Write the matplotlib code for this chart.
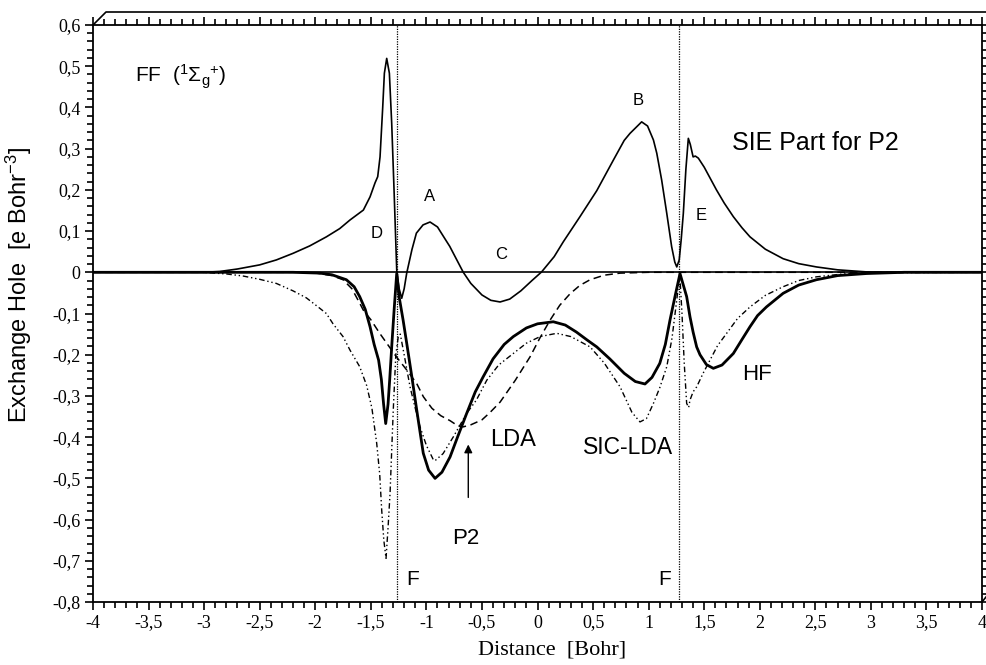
import matplotlib
matplotlib.use('Agg')
import matplotlib.pyplot as plt
from matplotlib.lines import Line2D
from matplotlib.ticker import MultipleLocator, FuncFormatter

plt.rcParams['mathtext.fontset'] = 'custom'
plt.rcParams['mathtext.rm'] = 'Liberation Sans'
plt.rcParams['mathtext.it'] = 'Liberation Sans:italic'

SANS = 'Liberation Sans'
SERIF = 'Liberation Serif'

# SIE part for reference point P2 (thin solid)
sie_x = [-4.0, -3.0, -2.86, -2.7, -2.5, -2.35, -2.2, -2.05, -1.9, -1.78, -1.687, -1.567,
         -1.507, -1.462, -1.438, -1.417, -1.393, -1.378, -1.357, -1.333, -1.312, -1.291,
         -1.267, -1.245, -1.222, -1.2, -1.177, -1.13, -1.09, -1.03, -0.967, -0.9, -0.83,
         -0.79, -0.73, -0.668, -0.6, -0.5, -0.42, -0.337, -0.25, -0.15, -0.05, 0.037,
         0.15, 0.232, 0.382, 0.533, 0.682, 0.78, 0.832, 0.937, 0.99, 1.043, 1.073, 1.117,
         1.163, 1.207, 1.235, 1.253, 1.275, 1.293, 1.312, 1.335, 1.357, 1.375, 1.40, 1.42,
         1.447, 1.5, 1.55, 1.61, 1.68, 1.762, 1.84, 1.912, 2.05, 2.21, 2.35, 2.51, 2.7,
         2.96, 3.2, 4.0]
sie_y = [0.0, 0.0, 0.002, 0.008, 0.018, 0.03, 0.046, 0.064, 0.086, 0.106, 0.127, 0.151,
         0.183, 0.217, 0.232, 0.28, 0.40, 0.483, 0.519, 0.483, 0.361, 0.2,
         0.006, -0.04, -0.063, -0.04, -0.002, 0.055, 0.095, 0.115, 0.122, 0.11, 0.08,
         0.063, 0.032, 0.0, -0.027, -0.055, -0.068, -0.072, -0.065, -0.045, -0.02, 0.001,
         0.038, 0.074, 0.135, 0.198, 0.272, 0.32, 0.337, 0.365, 0.355, 0.321, 0.289, 0.224,
         0.143, 0.062, 0.025, 0.013, 0.03, 0.08, 0.143, 0.25, 0.325, 0.31, 0.28, 0.282,
         0.277, 0.255, 0.23, 0.20, 0.168, 0.135, 0.108, 0.086, 0.056, 0.033, 0.021, 0.013, 0.006,
         0.001, 0.0, 0.0]

# HF exchange hole (thick solid)
hf_x = [-4.0, -2.2, -1.96, -1.85, -1.72, -1.65, -1.60, -1.55, -1.507, -1.47, -1.43, -1.405,
        -1.385, -1.366, -1.345, -1.33, -1.31, -1.29, -1.267, -1.245, -1.21, -1.177, -1.13,
        -1.087, -1.05, -1.028, -0.98, -0.922, -0.86, -0.787, -0.72, -0.637, -0.56, -0.488,
        -0.4, -0.3, -0.218, -0.1, 0.0, 0.142, 0.25, 0.35, 0.45, 0.533, 0.65, 0.78, 0.88,
        0.967, 1.03, 1.10, 1.15, 1.192, 1.24, 1.282, 1.342, 1.372, 1.40, 1.432, 1.462, 1.52,
        1.582, 1.66, 1.762, 1.84, 1.912, 1.98, 2.06, 2.21, 2.35, 2.51, 2.7, 2.96, 3.3, 4.0]
hf_y = [0.0, 0.0, -0.002, -0.006, -0.018, -0.035, -0.059, -0.09, -0.132, -0.175, -0.213, -0.26,
        -0.32, -0.367, -0.32, -0.26, -0.172, -0.09, -0.003, -0.06, -0.115, -0.172, -0.255,
        -0.334, -0.40, -0.439, -0.48, -0.50, -0.485, -0.448, -0.40, -0.342, -0.29, -0.253,
        -0.21, -0.175, -0.156, -0.135, -0.125, -0.12, -0.128, -0.145, -0.165, -0.181, -0.21,
        -0.245, -0.265, -0.271, -0.255, -0.221, -0.175, -0.116, -0.055, -0.003, -0.059, -0.108,
        -0.145, -0.181, -0.2, -0.224, -0.233, -0.225, -0.197, -0.163, -0.132, -0.105, -0.084,
        -0.051, -0.031, -0.018, -0.008, -0.003, 0.0, 0.0]

# LDA exchange hole (dashed)
lda_x = [-4.0, -2.1, -1.99, -1.85, -1.75, -1.67, -1.60, -1.567, -1.5, -1.42, -1.357, -1.27,
         -1.177, -1.087, -1.027, -0.95, -0.87, -0.787, -0.72, -0.668, -0.6, -0.5, -0.427,
         -0.337, -0.2, -0.067, 0.02, 0.113, 0.2, 0.293, 0.38, 0.473, 0.6, 0.743, 1.0, 4.0]
lda_y = [0.0, 0.0, -0.002, -0.008, -0.018, -0.04, -0.075, -0.092, -0.115, -0.148, -0.172, -0.205,
         -0.237, -0.27, -0.302, -0.33, -0.348, -0.36, -0.372, -0.375, -0.37, -0.358, -0.34,
         -0.315, -0.262, -0.205, -0.16, -0.116, -0.08, -0.052, -0.032, -0.018, -0.007, -0.002, 0.0, 0.0]

# SIC-LDA exchange hole (dash-dot)
sic_x = [-4.0, -3.01, -2.8, -2.65, -2.5, -2.35, -2.2, -2.08, -1.97, -1.9, -1.84, -1.75, -1.687,
         -1.6, -1.537, -1.49, -1.447, -1.42, -1.402, -1.383, -1.363, -1.345, -1.327, -1.298,
         -1.275, -1.253, -1.235, -1.2, -1.147, -1.1, -1.057, -1.0, -0.937, -0.922, -0.85,
         -0.757, -0.637, -0.55, -0.457, -0.35, -0.218, -0.1, 0.023, 0.173, 0.3, 0.473, 0.6,
         0.743, 0.85, 0.922, 0.98, 1.043, 1.1, 1.163, 1.21, 1.253, 1.28, 1.30, 1.32, 1.342,
         1.36, 1.372, 1.40, 1.432, 1.49, 1.552, 1.62, 1.702, 1.8, 1.912, 2.05, 2.21, 2.35,
         2.51, 2.75, 3.0, 4.0]
sic_y = [0.0, 0.0, -0.004, -0.009, -0.017, -0.027, -0.045, -0.062, -0.085, -0.10, -0.125, -0.156,
         -0.189, -0.229, -0.275, -0.33, -0.415, -0.49, -0.577, -0.65, -0.694, -0.62, -0.537, -0.334,
         -0.2, -0.156, -0.15, -0.2, -0.278, -0.33, -0.375, -0.42, -0.455, -0.457, -0.44,
         -0.399, -0.342, -0.31, -0.262, -0.225, -0.197, -0.172, -0.156, -0.148, -0.156, -0.181,
         -0.22, -0.278, -0.34, -0.363, -0.355, -0.318, -0.28, -0.229, -0.16, -0.067, -0.005, -0.1,
         -0.22, -0.318, -0.328, -0.31, -0.29, -0.278, -0.245, -0.213, -0.178, -0.148, -0.112,
         -0.084, -0.056, -0.035, -0.02, -0.011, -0.004, -0.001, 0.0]

atom_x = [-1.26, 1.275]  # F nuclei

fig = plt.figure(figsize=(9.86, 6.65), dpi=100)
ax = fig.add_axes([0.0943, 0.0947, 0.9017, 0.8677])

ax.axhline(0, color='black', lw=1.2, zorder=1)
for xa in atom_x:
    ax.axvline(xa, color='black', lw=0.9, ls=(0, (1, 1)), zorder=1)

ax.plot(sie_x, sie_y, color='black', lw=1.2)
ax.plot(hf_x, hf_y, color='black', lw=2.0)
ax.plot(lda_x, lda_y, color='black', lw=1.1, ls=(0, (5, 3)))
ax.plot(sic_x, sic_y, color='black', lw=1.0, ls=(0, (4, 2, 1, 2, 1, 2)))

ax.set_xlim(-4, 4)
ax.set_ylim(-0.8, 0.6)
ax.xaxis.set_major_locator(MultipleLocator(0.5))
ax.xaxis.set_minor_locator(MultipleLocator(0.1))
ax.yaxis.set_major_locator(MultipleLocator(0.1))
ax.yaxis.set_minor_locator(MultipleLocator(0.02))


def comma(v, pos):
    v = round(v, 2)
    if abs(v) < 1e-9:
        return '0'
    return ('%g' % v).replace('.', ',')


ax.xaxis.set_major_formatter(FuncFormatter(comma))
ax.yaxis.set_major_formatter(FuncFormatter(comma))
ax.tick_params(which='both', direction='out', top=True, right=True, width=1.2,
               labelsize=13, pad=3)
ax.tick_params(which='major', length=6)
ax.tick_params(which='minor', length=4)
for lab in ax.get_xticklabels() + ax.get_yticklabels():
    lab.set_fontfamily(SERIF)
for sp in ax.spines.values():
    sp.set_linewidth(1.3)

ax.set_xlabel('Distance  [Bohr]', fontsize=16, family=SERIF)
ax.xaxis.set_label_coords(0.516, -0.066)
ax.set_ylabel(r'Exchange Hole  [e Bohr$^{-3}$]', fontsize=17, family=SANS)
ax.yaxis.set_label_coords(-0.066, 0.55)

ax.text(-3.62, 0.474, r'FF  ($^{1}\Sigma_{\rm g}{}^{+}$)', fontsize=15, family=SANS,
        ha='left', va='center')
for s, xt, yt in [('D', -1.447, 0.095), ('A', -0.976, 0.183), ('C', -0.33, 0.044),
                  ('B', 0.905, 0.416), ('E', 1.477, 0.139)]:
    ax.text(xt, yt, s, fontsize=12, family=SANS, ha='center', va='center')
ax.text(1.748, 0.314, 'SIE Part for P2', fontsize=18, family=SANS, ha='left', va='center')
ax.text(1.837, -0.249, 'HF', fontsize=16, family=SANS, ha='left', va='center')
ax.text(-0.428, -0.407, 'LDA', fontsize=17, family=SANS, ha='left', va='center')
ax.text(0.41, -0.424, 'SIC-LDA', fontsize=16.5, family=SANS, ha='left', va='center')
ax.text(-0.643, -0.646, 'P2', fontsize=16, family=SANS, ha='center', va='center')
ax.text(-1.177, -0.745, 'F', fontsize=15, family=SANS, ha='left', va='center')
ax.text(1.087, -0.745, 'F', fontsize=15, family=SANS, ha='left', va='center')
ax.annotate('', xy=(-0.623, -0.411), xytext=(-0.623, -0.553),
            arrowprops=dict(arrowstyle='-|>', color='black', lw=1.0, mutation_scale=12))

# pseudo-3D frame edges above and right of the plot box
W, H = 986.0, 665.0
fig.add_artist(Line2D([93 / W, 106 / W, 1.0], [1 - 25 / H, 1 - 12 / H, 1 - 12 / H],
                      color='black', lw=1.2))
fig.add_artist(Line2D([982 / W, 1.0], [1 - 602 / H, 1 - 597 / H], color='black', lw=1.2))

fig.savefig('out.png', dpi=100)
